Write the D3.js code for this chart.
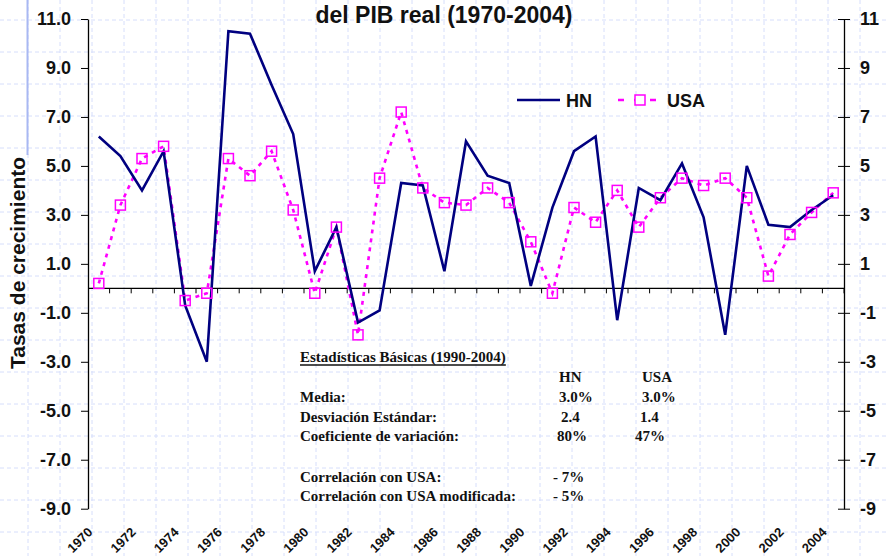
<!DOCTYPE html>
<html>
<head>
<meta charset="utf-8">
<script src="https://cdn.jsdelivr.net/npm/d3@7"></script>
<style>
body { margin: 0; background: #fff; }
svg { display: block; }
</style>
</head>
<body>
<svg></svg>
<script>
var years = [1970, 1971, 1972, 1973, 1974, 1975, 1976, 1977, 1978, 1979,
  1980, 1981, 1982, 1983, 1984, 1985, 1986, 1987, 1988, 1989,
  1990, 1991, 1992, 1993, 1994, 1995, 1996, 1997, 1998, 1999,
  2000, 2001, 2002, 2003, 2004]
var hn = [6.2, 5.4, 4.0, 5.6, -0.7, -3.0, 10.5, 10.4, 8.3, 6.3,
  0.7, 2.5, -1.4, -0.9, 4.3, 4.2, 0.7, 6.0, 4.6, 4.3,
  0.1, 3.3, 5.6, 6.2, -1.3, 4.1, 3.6, 5.1, 2.9, -1.9,
  5.0, 2.6, 2.5, 3.2, 3.8]
var usa = [0.2, 3.4, 5.3, 5.8, -0.5, -0.2, 5.3, 4.6, 5.6, 3.2,
  -0.2, 2.5, -1.9, 4.5, 7.2, 4.1, 3.5, 3.4, 4.1, 3.5,
  1.9, -0.2, 3.3, 2.7, 4.0, 2.5, 3.7, 4.5, 4.2, 4.5,
  3.7, 0.5, 2.2, 3.1, 3.9]
var yTicks = [11, 9, 7, 5, 3, 1, -1, -3, -5, -7, -9]
var xLabels = ["1970", "1972", "1974", "1976", "1978", "1980", "1982", "1984", "1986",
  "1988", "1990", "1992", "1994", "1996", "1998", "2000", "2002", "2004"]
var seriesNames = ["HN", "USA"]
var chartTitle = "del PIB real (1970-2004)"
var yTitle = "Tasas de crecimiento"

var statTitle = "Estadísticas Básicas (1990-2004)"
var statRows = ["Media:", "Desviación Estándar:", "Coeficiente de variación:"]
var statHN = ["3.0%", "2.4", "80%"]
var statUSA = ["3.0%", "1.4", "47%"]
var corrRows = ["Correlación con USA:", "Correlación con USA modificada:"]
var corrValues = ["- 7%", "- 5%"]

var width = 886
var height = 556
var sans = "'Liberation Sans', Arial, sans-serif"
var serif = "'Liberation Serif', 'Times New Roman', serif"
var hnColor = "#000080"
var usaColor = "#ff00ff"

var svg = d3.select('svg').attr('width', width).attr('height', height)

// background paper grid
var grid = svg.append("g").attr("class", "grid")
grid.selectAll("line.h")
  .data(d3.range(20, height, 32))
  .enter().append("line")
  .attr("class", "h")
  .attr("x1", 0).attr("x2", width)
  .attr("y1", d => d).attr("y2", d => d)
grid.selectAll("line.v")
  .data(d3.range(28, width, 32))
  .enter().append("line")
  .attr("class", "v")
  .attr("x1", d => d).attr("x2", d => d)
  .attr("y1", 0).attr("y2", height)
grid.selectAll("line")
  .attr("stroke", "#d6defb")
  .attr("stroke-width", 1)
  .attr("stroke-dasharray", "4,3")
svg.append("line")
  .attr("x1", 27.5).attr("x2", 27.5)
  .attr("y1", 0).attr("y2", 155)
  .attr("stroke", "#a9b8f2")
  .attr("stroke-width", 2)

var x = d3.scaleBand().domain(years).range([88, 844])
var y = d3.scaleLinear().domain([-9, 11]).range([508.7, 19])
var bw = x.bandwidth()
function cx(d) { return x(d) + bw / 2 }

// left axis
var leftAxis = svg.append("g")
  .attr("transform", "translate(88,0)")
  .call(d3.axisLeft(y).tickValues(yTicks).tickSize(7).tickSizeOuter(0).tickPadding(10)
    .tickFormat(d => d.toFixed(1).replace("\u2212", "-")))
leftAxis.select(".domain").attr("stroke", "#000").attr("stroke-width", 1.3)
leftAxis.selectAll("text")
  .attr("font-family", sans).attr("font-weight", "bold").attr("font-size", 18).attr("fill", "#111")

// right axis with crossing ticks
var rightAxis = svg.append("g")
  .attr("transform", "translate(844,0)")
  .call(d3.axisRight(y).tickValues(yTicks).tickSize(6).tickSizeOuter(0).tickPadding(10)
    .tickFormat(d => String(d)))
rightAxis.select(".domain").attr("stroke", "#000").attr("stroke-width", 1.3)
rightAxis.selectAll(".tick line").attr("x1", -6).attr("x2", 6)
rightAxis.selectAll("text")
  .attr("font-family", sans).attr("font-weight", "bold").attr("font-size", 18).attr("fill", "#111")

// zero line and category ticks
svg.append("line")
  .attr("x1", 88).attr("x2", 844)
  .attr("y1", y(0)).attr("y2", y(0))
  .attr("stroke", "#000").attr("stroke-width", 1.3)
svg.append("g").selectAll("line")
  .data(years)
  .enter().append("line")
  .attr("x1", d => x(d) + bw).attr("x2", d => x(d) + bw)
  .attr("y1", y(0)).attr("y2", y(0) + 5)
  .attr("stroke", "#000").attr("stroke-width", 1)

svg.append("g").selectAll("text")
  .data(xLabels)
  .enter().append("text")
  .attr("transform", d => "translate(" + (cx(+d) - 5.5) + ",533) rotate(-45)")
  .attr("text-anchor", "end")
  .attr("font-family", sans).attr("font-weight", "bold").attr("font-size", 13).attr("fill", "#111")
  .text(d => d)

// series
var lineGen = d3.line()
  .x((d, i) => cx(years[i]))
  .y(d => y(d))

svg.append("path")
  .datum(usa)
  .attr("d", lineGen)
  .attr("fill", "none")
  .attr("stroke", usaColor)
  .attr("stroke-width", 2.6)
  .attr("stroke-dasharray", "4,5")

svg.append("path")
  .datum(hn)
  .attr("d", lineGen)
  .attr("fill", "none")
  .attr("stroke", hnColor)
  .attr("stroke-width", 2.6)
  .attr("stroke-linejoin", "miter")

svg.append("g").selectAll("rect")
  .data(usa)
  .enter().append("rect")
  .attr("x", (d, i) => cx(years[i]) - 5)
  .attr("y", d => y(d) - 5)
  .attr("width", 10).attr("height", 10)
  .attr("fill", "none")
  .attr("stroke", usaColor)
  .attr("stroke-width", 1.5)

// titles
svg.append("text")
  .attr("x", 444).attr("y", 23)
  .attr("text-anchor", "middle")
  .attr("font-family", sans).attr("font-weight", "bold").attr("font-size", 23).attr("fill", "#111")
  .text(chartTitle)
svg.append("text")
  .attr("transform", "translate(25,263) rotate(-90)")
  .attr("text-anchor", "middle")
  .attr("font-family", sans).attr("font-weight", "bold").attr("font-size", 21).attr("fill", "#111")
  .text(yTitle)

// legend
var legend = svg.append("g")
legend.append("line")
  .attr("x1", 517).attr("x2", 560).attr("y1", 100).attr("y2", 100)
  .attr("stroke", hnColor).attr("stroke-width", 2.6)
legend.append("line")
  .attr("x1", 618).attr("x2", 657).attr("y1", 100).attr("y2", 100)
  .attr("stroke", usaColor).attr("stroke-width", 2.6).attr("stroke-dasharray", "6,10")
legend.append("rect")
  .attr("x", 635).attr("y", 95).attr("width", 10).attr("height", 10)
  .attr("fill", "#fff").attr("stroke", usaColor).attr("stroke-width", 1.5)
legend.selectAll("text")
  .data(seriesNames)
  .enter().append("text")
  .attr("x", (d, i) => i === 0 ? 566 : 667)
  .attr("y", 107)
  .attr("font-family", sans).attr("font-weight", "bold").attr("font-size", 18).attr("fill", "#111")
  .text(d => d)

// stats block
var stats = svg.append("g")
  .attr("font-family", serif).attr("font-weight", "bold").attr("font-size", 15).attr("fill", "#111")
var st = stats.append("text").attr("x", 300).attr("y", 361.5).text(statTitle)
var stLen = st.node().getComputedTextLength()
stats.append("line")
  .attr("x1", 300).attr("x2", 300 + stLen)
  .attr("y1", 365).attr("y2", 365)
  .attr("stroke", "#111").attr("stroke-width", 1.5)

var rowY = [401.5, 421.5, 441]
var hnX = [559, 561, 557]
var usaX = [642, 640, 635]
stats.append("text").attr("x", 559).attr("y", 382).text(seriesNames[0])
stats.append("text").attr("x", 642).attr("y", 382).text(seriesNames[1])
statRows.forEach(function(label, i) {
  stats.append("text").attr("x", 300).attr("y", rowY[i]).text(label)
  stats.append("text").attr("x", hnX[i]).attr("y", rowY[i]).text(statHN[i])
  stats.append("text").attr("x", usaX[i]).attr("y", rowY[i]).text(statUSA[i])
})
var corrY = [481.5, 501]
corrRows.forEach(function(label, i) {
  stats.append("text").attr("x", 300).attr("y", corrY[i]).text(label)
  stats.append("text").attr("x", 553).attr("y", corrY[i]).text(corrValues[i])
})
</script>
</body>
</html>
